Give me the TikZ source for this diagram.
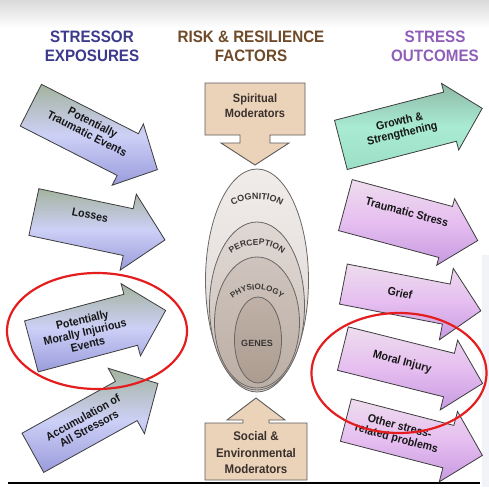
\documentclass[tikz,border=0pt]{standalone}
\usepackage{fontspec}
\setmainfont{Liberation Sans}
\newfontfamily\narrowsans{Liberation Sans}[FakeStretch=0.92]
\usetikzlibrary{shapes.arrows,decorations.text,calc}
\definecolor{bluetop}{HTML}{A3B39E}
\definecolor{bluemid}{HTML}{CDD0F6}
\definecolor{bluebot}{HTML}{9A9CDC}
\definecolor{pinktop}{HTML}{EEDDEE}
\definecolor{pinkmid}{HTML}{E6BEF0}
\definecolor{pinkbot}{HTML}{C79AE0}
\definecolor{greentop}{HTML}{8DB8A6}
\definecolor{greenmid}{HTML}{A9EBD3}
\definecolor{greenbot}{HTML}{9BE0C6}
\definecolor{arrowline}{HTML}{3C3C3C}
\definecolor{arrowink}{HTML}{161616}
\definecolor{tanfill}{HTML}{EBD3BA}
\definecolor{modline}{HTML}{5E5A58}
\definecolor{modink}{HTML}{3A302C}
\definecolor{ringred}{HTML}{E41E1E}
\definecolor{hdrblue}{HTML}{3D3A8C}
\definecolor{hdrbrown}{HTML}{6E4A28}
\definecolor{hdrpurple}{HTML}{8F5FB8}
\definecolor{ellline}{HTML}{6A6664}
\definecolor{ellA}{HTML}{F0ECEA}
\definecolor{ellAb}{HTML}{DCD6D2}
\definecolor{ellB}{HTML}{DFD7D2}
\definecolor{ellBb}{HTML}{CBC1BA}
\definecolor{ellC}{HTML}{CFC4BD}
\definecolor{ellCb}{HTML}{BBAEA5}
\definecolor{ellD}{HTML}{BFB1A7}
\definecolor{ellDb}{HTML}{AC9C90}
\definecolor{curveink}{HTML}{3A3634}
\definecolor{bandgray}{HTML}{DADADA}
\definecolor{baseline}{HTML}{B0B8C8}
\definecolor{sidetint}{HTML}{F1F3F8}
\newcommand\arcfont[1]{\bfseries\fontsize{#1}{#1}\selectfont}
\begin{document}
\begin{tikzpicture}[x=1pt,y=-1pt,
  blockarrow/.style={single arrow, draw=arrowline, line width=0.8pt, inner xsep=0pt,
    anchor=tail, single arrow tip angle=92},
  bluearrow/.style={blockarrow, top color=bluetop, bottom color=bluebot, middle color=bluemid},
  pinkarrow/.style={blockarrow, top color=pinktop, bottom color=pinkbot, middle color=pinkmid},
  greenarrow/.style={blockarrow, top color=greentop, bottom color=greenbot, middle color=greenmid},
  arrowtext/.style={font=\narrowsans\bfseries\fontsize{11.5}{12.5}\selectfont, text=arrowink,
    align=center, inner sep=0pt},
  hdr/.style={font=\narrowsans\bfseries\fontsize{16.5}{19.5}\selectfont, align=center, inner sep=0pt},
  modbox/.style={draw=modline, line width=0.9pt, fill=tanfill, line join=miter},
  modtext/.style={font=\narrowsans\bfseries\fontsize{12}{15}\selectfont, text=modink,
    align=center, inner sep=0pt},
  ring/.style={draw=ellline, line width=0.8pt},
  redring/.style={draw=ringred, line width=2.2pt},
]
\useasboundingbox (0,0) rectangle (489,487);
\fill[white] (0,0) rectangle (489,487);
\shade[top color=bandgray, bottom color=white] (0,0) rectangle (489,28);
\fill[sidetint] (482,255) rectangle (489,487);
\draw[baseline, line width=1.2pt] (8,483) -- (480,483);

% headers
\node[hdr, text=hdrblue] (h1) at (92,46.5) {STRESSOR\\EXPOSURES};
\node[hdr, text=hdrbrown] (h2) at (251,46.5) {RISK \& RESILIENCE\\FACTORS};
\node[hdr, text=hdrpurple] (h3) at (435,46.5) {STRESS\\OUTCOMES};

% left arrows (inner ysep = half shaft width)
\node[bluearrow, minimum height=142pt, inner ysep=23pt, single arrow head extend=11pt, rotate=-27] (pte) at (30.5,105) {};
\node[bluearrow, minimum height=134pt, inner ysep=23.5pt, single arrow head extend=15pt, rotate=-12] (los) at (33.5,212) {};
\node[bluearrow, minimum height=139pt, inner ysep=26pt, single arrow head extend=11pt, rotate=15] (pmie) at (31,346.5) {};
\node[bluearrow, minimum height=143pt, inner ysep=22pt, single arrow head extend=15pt, rotate=29] (acc) at (32.5,453) {};

\node[arrowtext, rotate=-27] (pteT) at (90,128) {Potentially\\Traumatic Events};
\node[arrowtext, rotate=-12] (losT) at (90,215) {Losses};
\node[arrowtext, rotate=13] (pmieT) at (85,332) {Potentially\\Morally Injurious\\Events};
\node[arrowtext, rotate=29] (accT) at (86,423) {Accumulation of\\All Stressors};

% right arrows
\node[greenarrow, minimum height=146pt, inner ysep=25pt, single arrow head extend=9pt, rotate=14.5] (grw) at (340.5,145) {};
\node[pinkarrow, minimum height=137pt, inner ysep=26pt, single arrow head extend=8pt, rotate=-15] (trs) at (345,205) {};
\node[pinkarrow, minimum height=140pt, inner ysep=20pt, single arrow head extend=16pt, rotate=-11] (grf) at (343,284) {};
\node[pinkarrow, minimum height=144pt, inner ysep=22pt, single arrow head extend=13.5pt, rotate=-14] (mor) at (342.5,348.5) {};
\node[pinkarrow, minimum height=141pt, inner ysep=21.5pt, single arrow head extend=14.5pt, rotate=-14.5] (oth) at (345.5,420) {};

\node[arrowtext, rotate=13] (grwT) at (401,128) {Growth \&\\Strengthening};
\node[arrowtext, rotate=-15] (trsT) at (407,212) {Traumatic Stress};
\node[arrowtext, rotate=-12] (grfT) at (400,293) {Grief};
\node[arrowtext, rotate=-15] (morT) at (402,362) {Moral Injury};
\node[arrowtext, rotate=-15] (othT) at (398,433) {Other stress-\\related problems};

% nested ellipses
\shade[ring, top color=ellA, bottom color=ellAb] (257,280.5) ellipse [x radius=51.5, y radius=111.5];
\shade[ring, top color=ellB, bottom color=ellBb] (257,306) ellipse [x radius=47.5, y radius=84];
\shade[ring, top color=ellC, bottom color=ellCb] (257,322.5) ellipse [x radius=42.5, y radius=65.5];
\shade[ring, top color=ellD, bottom color=ellDb] (258,340) ellipse [x radius=23.5, y radius=43];

\path[decorate, decoration={text along path, text align=center, text color=curveink,
  text={|\arcfont{9}|COGNITION}}] (212,226) .. controls (234,190) and (280,190) .. (302,226);
\path[decorate, decoration={text along path, text align=center, text color=curveink,
  text={|\arcfont{8.5}|PERCEPTION}}] (216,272) .. controls (234,236) and (280,236) .. (298,272);
\path[decorate, decoration={text along path, text align=center, text color=curveink,
  text={|\arcfont{8}|PHYSIOLOGY}}] (219,316) .. controls (236,281) and (278,281) .. (295,316);
\node[font=\arcfont{9}, text=curveink, inner sep=0pt] (genes) at (257,343) {GENES};

% moderators
\draw[modbox] (205,83) -- (305,83) -- (305,135) -- (270,135) -- (270,143) -- (289,143)
  -- (255,165) -- (221,143) -- (240,143) -- (240,135) -- (205,135) -- cycle;
\node[modtext] (spir) at (255,106) {Spiritual\\Moderators};
\draw[modbox] (256,398) -- (285,420) -- (269,420) -- (269,423) -- (307,423) -- (307,480)
  -- (205,480) -- (205,423) -- (243,423) -- (243,420) -- (227,420) -- cycle;
\node[modtext, font=\narrowsans\bfseries\fontsize{12.5}{16.5}\selectfont] (soc) at (256,453) {Social \&\\Environmental\\Moderators};

% red highlight rings
\draw[redring] (97,331) ellipse [x radius=90, y radius=58];
\draw[redring] (399,373) ellipse [x radius=87.5, y radius=60];
\end{tikzpicture}
\end{document}
